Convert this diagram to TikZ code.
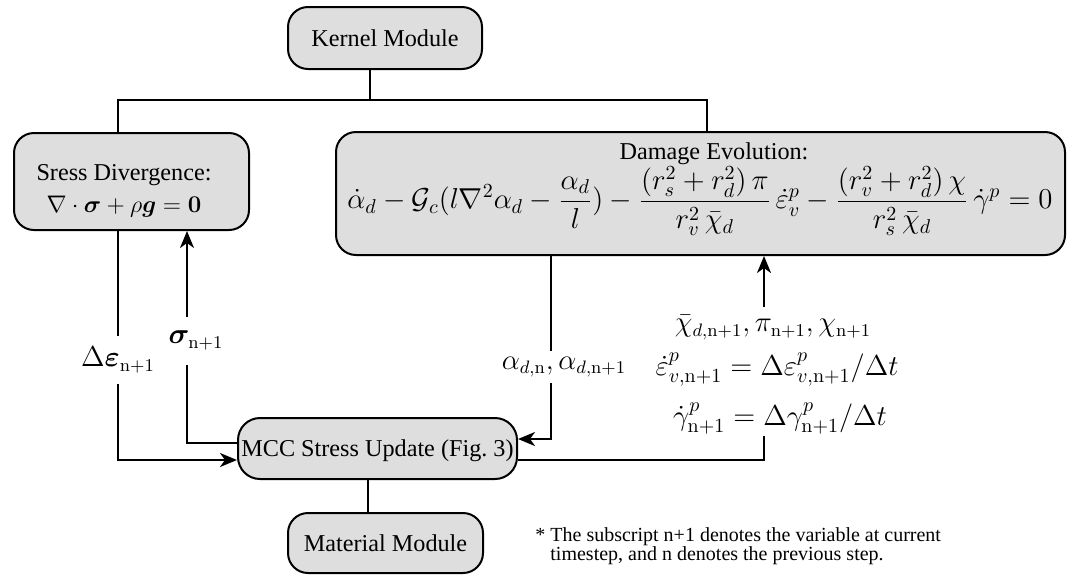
\documentclass[tikz,border=0pt]{standalone}
\usepackage[no-math]{fontspec}
\setmainfont{Liberation Serif}
\usepackage{amsmath,amssymb,bm}
\usetikzlibrary{arrows.meta,calc}
\definecolor{boxgray}{RGB}{222,222,222}
\begin{document}
\begin{tikzpicture}[x=0.5pt,y=-0.5pt,
  font=\fontsize{12.1}{14.5}\selectfont,
  box/.style={draw, line width=1pt, fill=boxgray, rounded corners=10pt, inner sep=0pt,
    text height=8pt, text depth=0pt},
  conn/.style={line width=1pt},
  arr/.style={conn, -{Stealth[length=8.5pt,width=7pt,inset=2.5pt]}},
  lab/.style={inner xsep=1pt, inner ysep=#1},
  lab/.default=2pt,
  big/.style={font=\fontsize{13.5}{16}\selectfont},
  bigger/.style={font=\fontsize{14.4}{17}\selectfont}
]
\useasboundingbox (0,0) rectangle (1079,574);
% boxes
\node[box, minimum width=97pt, minimum height=31pt] (kernel) at (385,38) {Kernel Module};
\node[box, minimum width=117.5pt, minimum height=48.5pt] (sress) at (131.5,181.5) {};
\node[anchor=base] (sress1) at (124,180) {Sress Divergence:};
\node[anchor=base, font=\fontsize{13.2}{16}\selectfont] (sress2) at (124,212) {$\nabla\cdot\bm{\sigma}+\rho\bm{g}=\mathbf{0}$};
\node[box, minimum width=364.5pt, minimum height=61.5pt] (damage) at (700.5,193.5) {};
\node[anchor=base] (damage1) at (714,159) {Damage Evolution:};
\node[font=\fontsize{13.6}{16}\selectfont] (damage2) at (700,201)
  {$\displaystyle \dot\alpha_d-\mathcal{G}_c(l\nabla^2\alpha_d-\frac{\alpha_d}{l})-\frac{(r_s^2+r_d^2)\,\pi}{r_v^2\,\bar\chi_d}\,\dot\varepsilon_v^p-\frac{(r_v^2+r_d^2)\,\chi}{r_s^2\,\bar\chi_d}\,\dot\gamma^p=0$};
\node[box, minimum width=139.5pt, minimum height=30.5pt, rounded corners=11pt] (mcc) at (377.5,448.5) {MCC Stress Update (Fig.~3)};
\node[box, minimum width=97.5pt, minimum height=30pt] (material) at (385.5,543) {Material Module};
% tree connectors
\coordinate (kx) at (370,100);
\coordinate (lx) at (118,100);
\coordinate (rx) at (707,100);
\draw[conn] (kernel.south -| kx) -- (kx);
\draw[conn] (sress.north -| lx) -- (lx) -- (rx) -- (damage.north -| rx);
\coordinate (mx) at (368,0);
\draw[conn] (mcc.south -| mx) -- (material.north -| mx);
% labels
\node[lab=5.4pt,big] (de) at (118,360) {$\Delta\bm{\varepsilon}_{\mathrm{n+1}}$};
\node[lab=7.1pt,big] (sg) at (196,340.5) {$\bm{\sigma}_{\mathrm{n+1}}$};
\node[lab=2.85pt,big] (al) at (564,367) {$\alpha_{d,\mathrm{n}},\alpha_{d,\mathrm{n+1}}$};
\coordinate (sx) at (187,0);
\coordinate (ax) at (551,0);
\draw[conn] (sress.south -| de) -- (de.north);
\draw[arr] (de.south) |- ($(mcc.west)+(0,11.5)$);
\draw[arr] (sg.north -| sx) -- (sress.south -| sx);
\draw[conn] (sg.south -| sx) |- ($(mcc.west)+(0,-5.5)$);
\draw[conn] (damage.south -| ax) -- (al.north -| ax);
\draw[arr] (al.south -| ax) |- ($(mcc.east)+(0,-9.5)$);
% right stack
\node[lab=4.2pt,big,anchor=base] (r1) at (773,331.7) {$\bar\chi_{d,\mathrm{n+1}},\pi_{\mathrm{n+1}},\chi_{\mathrm{n+1}}$};
\node[lab,bigger,anchor=base] (r2) at (777,375) {$\dot\varepsilon^p_{v,\mathrm{n+1}}=\Delta\varepsilon^p_{v,\mathrm{n+1}}/\Delta t$};
\node[lab=0.5pt,bigger,anchor=base] (r3) at (780,425) {$\dot\gamma^p_{\mathrm{n+1}}=\Delta\gamma^p_{\mathrm{n+1}}/\Delta t$};
\coordinate (rx2) at (764,0);
\draw[arr] (r1.north -| rx2) -- (damage.south -| rx2);
\draw[conn] (r3.south -| rx2) |- ($(mcc.east)+(0,11.5)$);
% footnote
\node[anchor=base west, inner sep=0pt, font=\fontsize{10}{9}\selectfont] (note) at (535,541.6)
  {\begin{tabular}[t]{@{}l@{ }l@{}}*&The subscript n+1 denotes the variable at current\\&timestep, and n denotes the previous step.\end{tabular}};
\end{tikzpicture}
\end{document}
